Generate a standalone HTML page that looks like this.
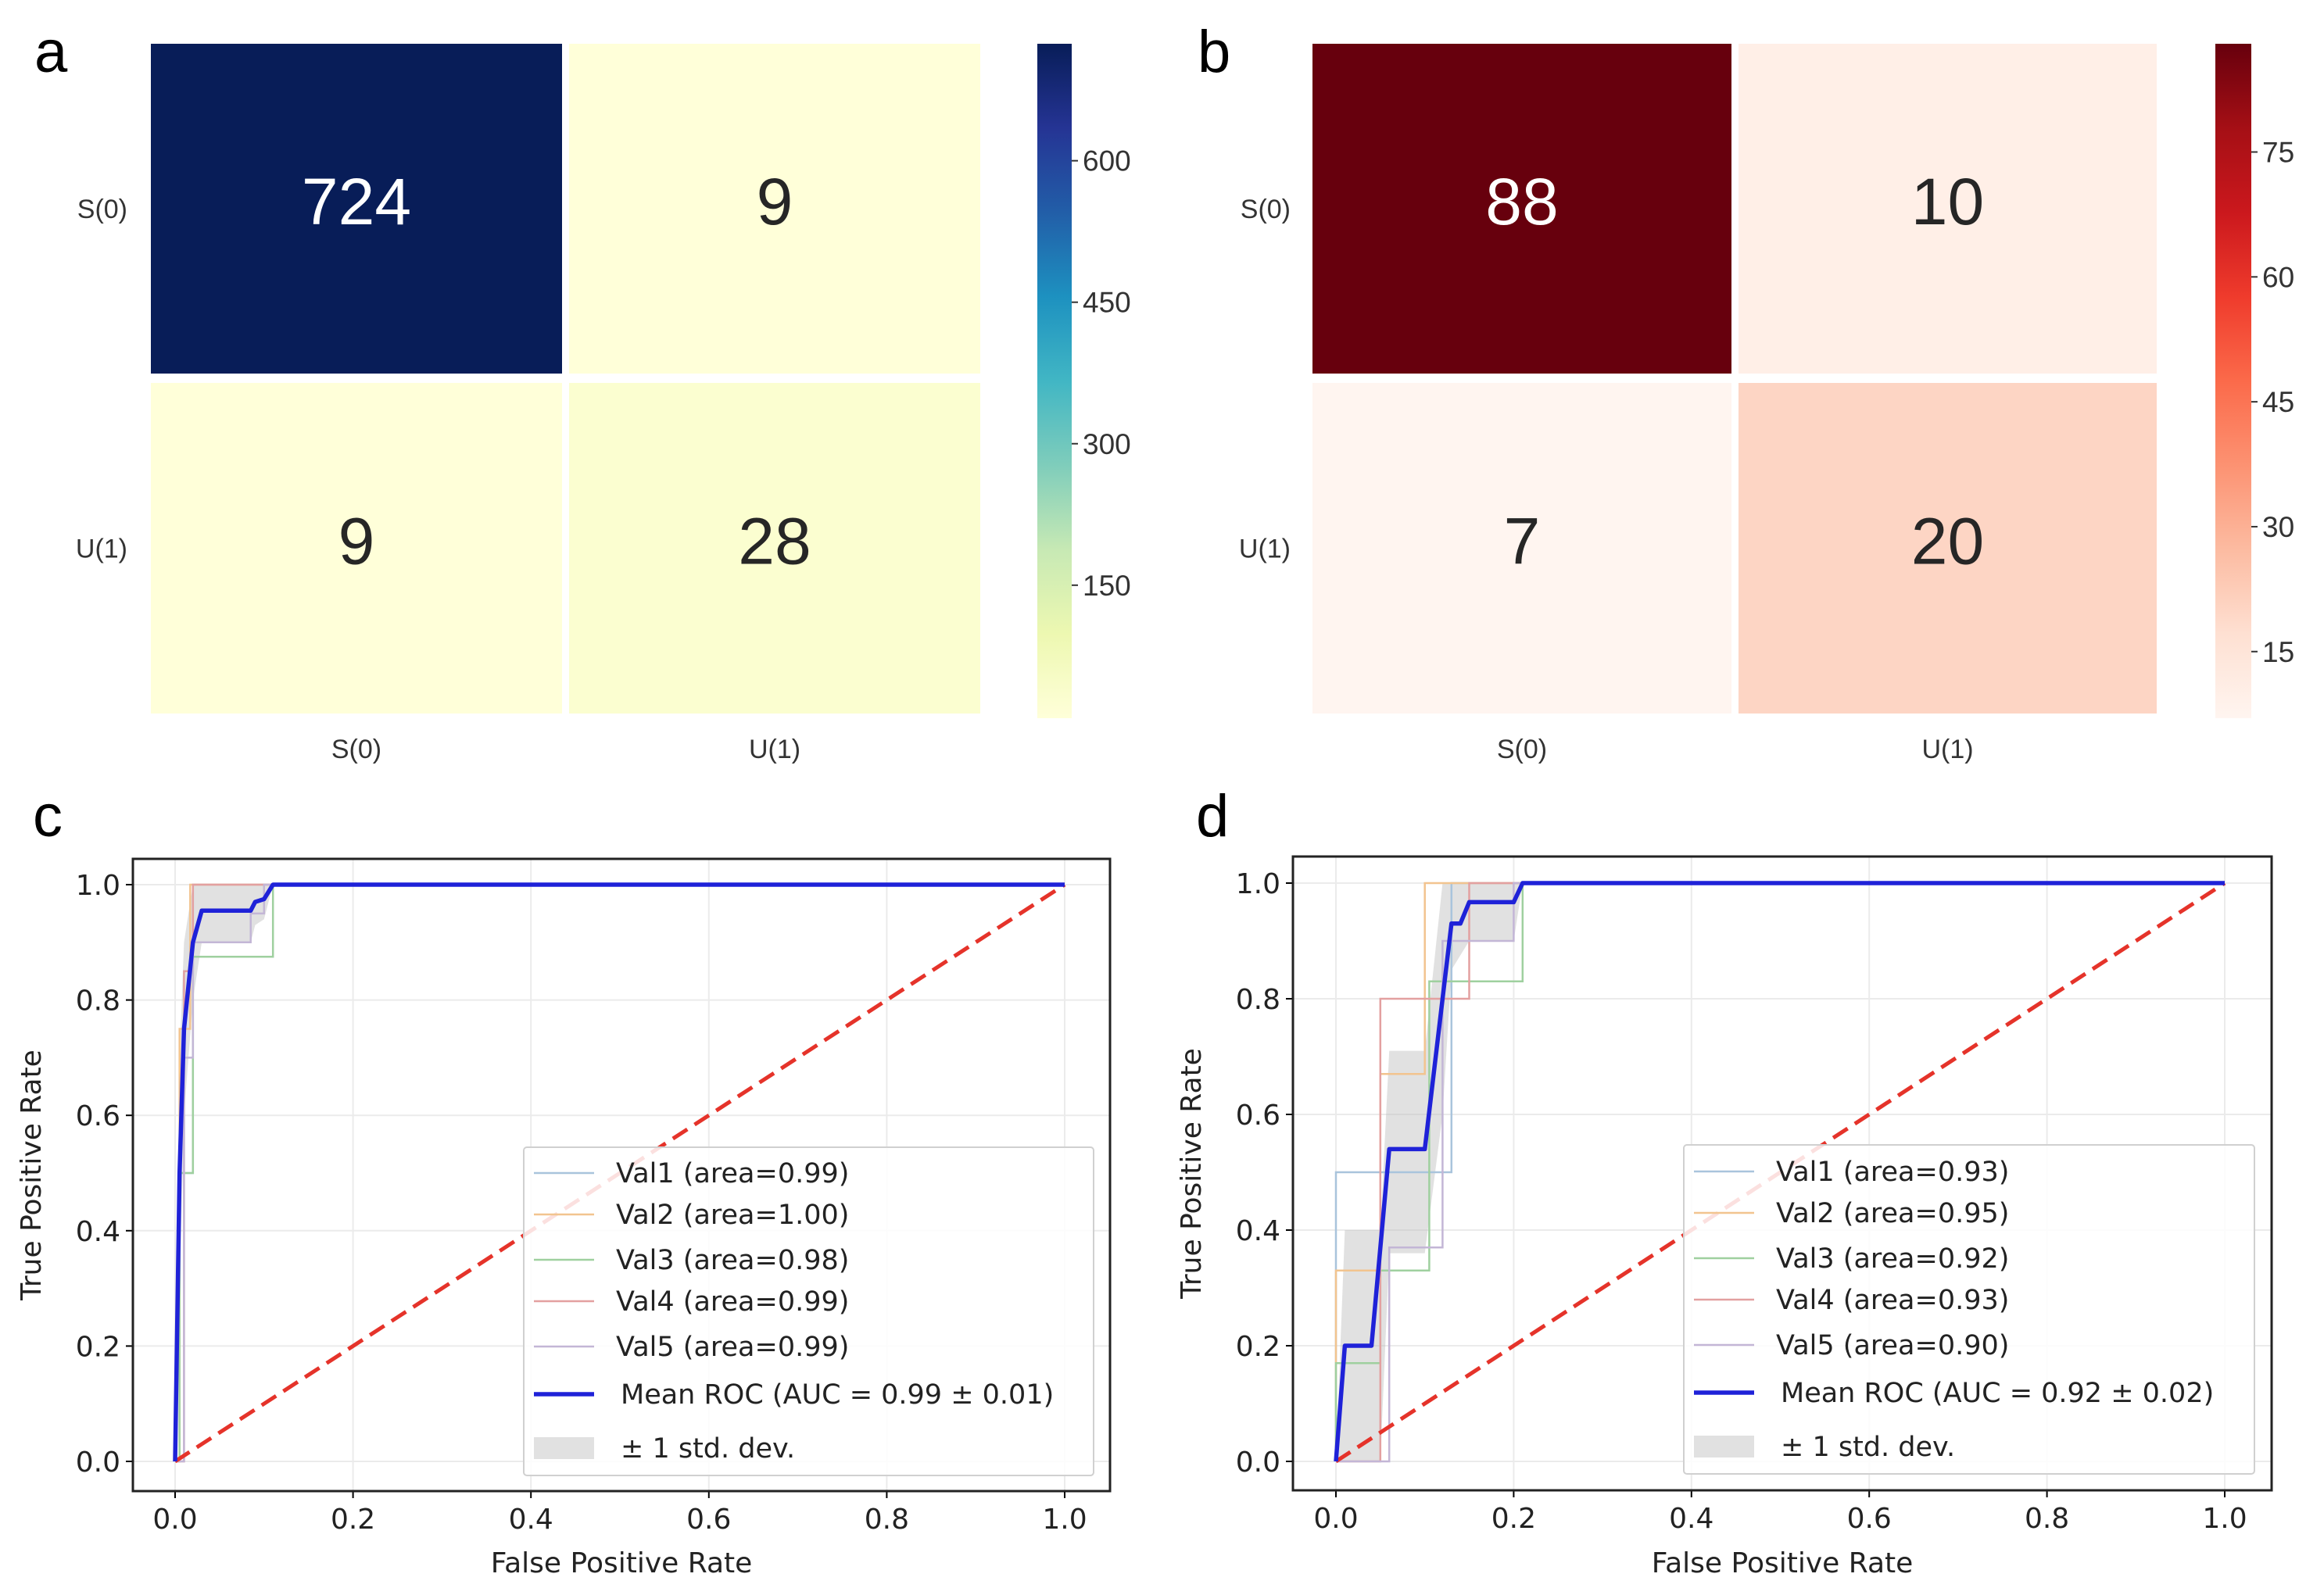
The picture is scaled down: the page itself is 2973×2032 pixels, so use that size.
<!DOCTYPE html>
<html><head><meta charset="utf-8"><style>
html,body{margin:0;padding:0;background:#fff;}
svg{display:block;}
text{font-family:"DejaVu Sans","Liberation Sans",sans-serif;}
</style></head><body>
<svg id="fig" width="2973" height="2032" viewBox="0 0 2973 2032" xmlns="http://www.w3.org/2000/svg"></svg>
<script>
const NS="http://www.w3.org/2000/svg";
const svg=document.getElementById('fig');
// ---- data ----
const cmLabels=["S(0)","U(1)"];
const cmA=[[724,9],[9,28]];
const cmB=[[88,10],[7,20]];
const cbTicksA=[150,300,450,600];
const cbTicksB=[15,30,45,60,75];
const rocTicks=[0,0.2,0.4,0.6,0.8,1.0];
const cVal1=[[0,0],[0.005,0],[0.005,0.5],[0.02,0.5],[0.02,1],[1,1]];
const cVal2=[[0,0],[0.005,0],[0.005,0.75],[0.017,0.75],[0.017,1],[1,1]];
const cVal3=[[0,0],[0.005,0],[0.005,0.5],[0.02,0.5],[0.02,0.875],[0.11,0.875],[0.11,1],[1,1]];
const cVal4=[[0,0],[0.01,0],[0.01,0.85],[0.02,0.85],[0.02,1],[1,1]];
const cVal5=[[0,0],[0.01,0],[0.01,0.7],[0.02,0.7],[0.02,0.9],[0.085,0.9],[0.085,0.95],[0.1,0.95],[0.1,1],[1,1]];
const cMean=[[0,0],[0.005,0.5],[0.01,0.75],[0.02,0.9],[0.03,0.955],[0.085,0.955],[0.09,0.97],[0.1,0.975],[0.11,1],[1,1]];
const cUpper=[[0,0],[0.005,0.7],[0.01,0.9],[0.02,1],[1,1]];
const cLower=[[0,0],[0.005,0.3],[0.01,0.6],[0.02,0.8],[0.03,0.9],[0.085,0.9],[0.09,0.93],[0.1,0.94],[0.11,1],[1,1]];
const dVal1=[[0,0],[0,0.5],[0.13,0.5],[0.13,1],[1,1]];
const dVal2=[[0,0],[0,0.33],[0.05,0.33],[0.05,0.67],[0.1,0.67],[0.1,1],[1,1]];
const dVal3=[[0,0],[0,0.17],[0.05,0.17],[0.05,0.33],[0.105,0.33],[0.105,0.83],[0.21,0.83],[0.21,1],[1,1]];
const dVal4=[[0,0],[0.05,0],[0.05,0.8],[0.15,0.8],[0.15,1],[1,1]];
const dVal5=[[0,0],[0.06,0],[0.06,0.37],[0.12,0.37],[0.12,0.9],[0.2,0.9],[0.2,1],[1,1]];
const dMean=[[0,0],[0.01,0.2],[0.04,0.2],[0.06,0.54],[0.1,0.54],[0.12,0.8],[0.13,0.93],[0.14,0.93],[0.15,0.967],[0.2,0.967],[0.21,1],[1,1]];
const dUpper=[[0,0],[0.01,0.4],[0.05,0.4],[0.06,0.71],[0.1,0.71],[0.12,1],[1,1]];
const dLower=[[0,0],[0.05,0],[0.06,0.36],[0.1,0.36],[0.12,0.6],[0.13,0.85],[0.15,0.9],[0.2,0.9],[0.21,1],[1,1]];
const legC=["Val1 (area=0.99)","Val2 (area=1.00)","Val3 (area=0.98)","Val4 (area=0.99)","Val5 (area=0.99)","Mean ROC (AUC = 0.99 ± 0.01)","± 1 std. dev."];
const legD=["Val1 (area=0.93)","Val2 (area=0.95)","Val3 (area=0.92)","Val4 (area=0.93)","Val5 (area=0.90)","Mean ROC (AUC = 0.92 ± 0.02)","± 1 std. dev."];
const valColors=["#a9c4dc","#f2c48f","#9fd09f","#e3a0a0","#c3b6d6"];
const YlGnBu=["#ffffd9","#edf8b1","#c7e9b4","#7fcdbb","#41b6c4","#1d91c0","#225ea8","#253494","#081d58"];
const Reds=["#fff5f0","#fee0d2","#fcbba1","#fc9272","#fb6a4a","#ef3b2c","#cb181d","#a50f15","#67000d"];

function el(tag,attrs,parent,txt){const e=document.createElementNS(NS,tag);for(const k in attrs)e.setAttribute(k,attrs[k]);if(txt!==undefined)e.textContent=txt;(parent||svg).appendChild(e);return e;}
function hex(c){return [1,3,5].map(i=>parseInt(c.substr(i,2),16));}
function cmap(stops,t){t=Math.max(0,Math.min(1,t));const p=t*(stops.length-1);const i=Math.min(stops.length-2,Math.floor(p));const f=p-i;const a=hex(stops[i]),b=hex(stops[i+1]);return "rgb("+a.map((v,k)=>Math.round(v+(b[k]-v)*f)).join(",")+")";}

function heatmap(g,data,stops,ticks,o){
  const vals=data.flat();const mn=Math.min(...vals),mx=Math.max(...vals);
  const colX=[[o.x0,o.x1],[o.x2,o.x3]],rowY=[[56,478],[490,913]];
  data.forEach((row,r)=>row.forEach((v,c)=>{
    const t=(v-mn)/(mx-mn);
    const rc=el('rect',{x:colX[c][0],y:rowY[r][0],width:colX[c][1]-colX[c][0],height:rowY[r][1]-rowY[r][0],fill:cmap(stops,t)},g);
    
    
    const tx=el('text',{x:(colX[c][0]+colX[c][1])/2,y:(rowY[r][0]+rowY[r][1])/2+20,'text-anchor':'middle','font-size':84,fill:t>0.5?'#fff':'#262626',style:'font-family:"Liberation Sans",sans-serif'},g,String(v));
    
    
  }));
  cmLabels.forEach((l,i)=>{
    const ty=el('text',{x:o.ylabX,y:(rowY[i][0]+rowY[i][1])/2+12,'text-anchor':'end','font-size':34,fill:'#333',style:'font-family:"Liberation Sans",sans-serif'},g,l);
    
    
    const tx=el('text',{x:(colX[i][0]+colX[i][1])/2,y:970,'text-anchor':'middle','font-size':34,fill:'#333',style:'font-family:"Liberation Sans",sans-serif'},g,l);
    
    
  });
  const gid='grad'+o.id;const defs=el('defs',{},g);const lg=el('linearGradient',{id:gid,x1:0,y1:1,x2:0,y2:0},defs);
  stops.forEach((s,i)=>el('stop',{offset:i/(stops.length-1),'stop-color':s},lg));
  const cbTop=56,cbBot=919;
  const cb=el('rect',{x:o.cbx,y:cbTop,width:o.cbw,height:cbBot-cbTop,fill:'url(#'+gid+')'},g);
  
  
  const yv=v=>cbBot-(v-mn)/(mx-mn)*(cbBot-cbTop);
  ticks.forEach(t=>{
    const y=yv(t);
    el('line',{x1:o.cbx+o.cbw,x2:o.cbx+o.cbw+8,y1:y,y2:y,stroke:'#333','stroke-width':2},g);
    const tl=el('text',{x:o.cbx+o.cbw+14,y:y+13,'font-size':37,fill:'#333',style:'font-family:"Liberation Sans",sans-serif'},g,String(t));
    
    
  });
}

function roc(g,o,vals,mean,upper,lower,leg){
  const X=v=>o.x0+v*(o.x1-o.x0), Y=v=>o.y0-v*(o.y0-o.y1);
  rocTicks.forEach(t=>{
    el('line',{x1:X(t),x2:X(t),y1:o.top,y2:o.bot,stroke:'#ebebeb','stroke-width':2},g);
    el('line',{x1:o.left,x2:o.right,y1:Y(t),y2:Y(t),stroke:'#ebebeb','stroke-width':2},g);
    el('line',{x1:X(t),x2:X(t),y1:o.bot,y2:o.bot+9,stroke:'#000','stroke-width':2},g);
    el('line',{x1:o.left-9,x2:o.left,y1:Y(t),y2:Y(t),stroke:'#000','stroke-width':2},g);
    const xl=el('text',{x:X(t),y:o.bot+48,'text-anchor':'middle','font-size':36,fill:'#222'},g,t.toFixed(1));
    
    
    const yl=el('text',{x:o.left-16,y:Y(t)+13,'text-anchor':'end','font-size':36,fill:'#222'},g,t.toFixed(1));
    
    
  });
  const pts=a=>a.map(p=>X(p[0]).toFixed(1)+","+Y(p[1]).toFixed(1)).join(" ");
  const band=el('polygon',{points:pts(upper)+" "+pts(lower.slice().reverse()),fill:'#bdbdbd','fill-opacity':0.45},g);
  
  
  vals.forEach((v,i)=>{
    const pl=el('polyline',{points:pts(v),fill:'none',stroke:valColors[i],'stroke-width':2.5},g);
    
    
  });
  const diag=el('line',{x1:X(0),y1:Y(0),x2:X(1),y2:Y(1),stroke:'#e5332a','stroke-width':5,'stroke-dasharray':'22,11'},g);
  
  
  const ml=el('polyline',{points:pts(mean),fill:'none',stroke:'#1f22d8','stroke-width':5.5,'stroke-linejoin':'round'},g);
  
  
  const fr=el('rect',{x:o.left,y:o.top,width:o.right-o.left,height:o.bot-o.top,fill:'none',stroke:'#222','stroke-width':3},g);
  
  
  const lgG=el('g',{},g);
  
  
  el('rect',{x:o.lx,y:o.ly,width:o.lw,height:o.lh,fill:'#fff','fill-opacity':0.85,stroke:'#d0d0d0','stroke-width':2,rx:4},lgG);
  const ys=[1501,1554,1612,1665,1723,1784,1853].map(v=>v+o.dy);
  leg.forEach((l,i)=>{
    const hx=o.lx+13;
    if(i<5) el('line',{x1:hx,x2:hx+77,y1:ys[i],y2:ys[i],stroke:valColors[i],'stroke-width':2.5},lgG);
    else if(i===5) el('line',{x1:hx,x2:hx+77,y1:ys[i],y2:ys[i],stroke:'#1f22d8','stroke-width':5.5},lgG);
    else el('rect',{x:hx,y:ys[i]-14,width:77,height:28,fill:'#bdbdbd','fill-opacity':0.45},lgG);
    const t=el('text',{x:o.lx+(i>=5?124:118),y:ys[i]+12,'font-size':35,fill:'#222'},lgG,l);
    
    
  });
  const xt=el('text',{x:(o.left+o.right)/2,y:2012,'text-anchor':'middle','font-size':36,fill:'#222'},g,'False Positive Rate');
  
  
  const yt=el('text',{x:0,y:0,transform:'translate('+(o.left-118)+','+((o.top+o.bot)/2)+') rotate(-90)','text-anchor':'middle','font-size':36,fill:'#222'},g,'True Positive Rate');
  
  
}

function letter(s,x,y){const t=el('text',{x:x,y:y,'font-size':76,fill:'#000',style:'font-family:"Liberation Sans",sans-serif'},svg,s);

}

const gA=el('g',{});
heatmap(gA,cmA,YlGnBu,cbTicksA,{id:'a',x0:193,x1:719,x2:728,x3:1254,ylabX:163,cbx:1327,cbw:44});
const gB=el('g',{});
heatmap(gB,cmB,Reds,cbTicksB,{id:'b',x0:1679,x1:2215,x2:2224,x3:2759,ylabX:1651,cbx:2834,cbw:46});
const gC=el('g',{});
roc(gC,{x0:224,x1:1362,y0:1870,y1:1132,left:170,right:1420,top:1099,bot:1908,lx:670,ly:1468,lw:729,lh:420,dy:0},[cVal1,cVal2,cVal3,cVal4,cVal5],cMean,cUpper,cLower,legC);
const gD=el('g',{});
roc(gD,{x0:1709,x1:2846,y0:1870,y1:1130,left:1654,right:2906,top:1096,bot:1907,lx:2154,ly:1465,lw:730,lh:421,dy:-2},[dVal1,dVal2,dVal3,dVal4,dVal5],dMean,dUpper,dLower,legD);
letter('a',44,92);letter('b',1532,92);letter('c',42,1070);letter('d',1530,1070);
</script>
</body></html>
